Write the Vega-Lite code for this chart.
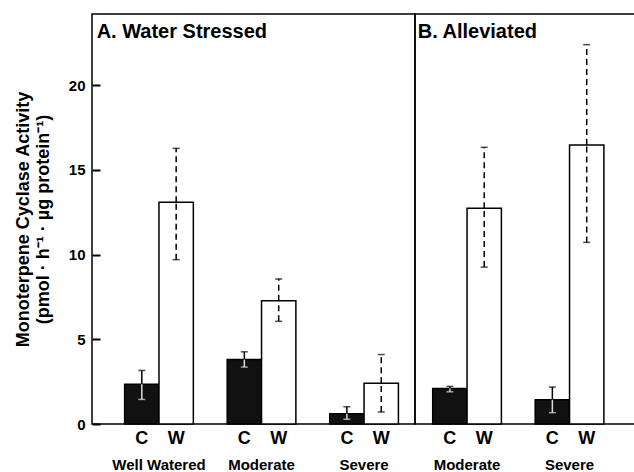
{
  "$schema": "https://vega.github.io/schema/vega-lite/v6.json",
  "padding": {"left": 13, "top": 13, "right": 0, "bottom": 0},
  "background": "white",
  "config": {
    "font": "Liberation Sans",
    "view": {"stroke": "black", "strokeWidth": 1.5},
    "concat": {"spacing": 0},
    "axisY": {"offset": -8, "ticks": true, "tickSize": 8, "tickWidth": 2, "tickColor": "black", "tickOpacity": 1, "zindex": 1, "domain": false, "grid": false, "labelFontSize": 15, "labelFontWeight": "bold", "labelColor": "black", "labelPadding": 7, "titleFontSize": 18, "titleFontWeight": "bold", "titleColor": "black", "titlePadding": 16, "titleLineHeight": 20},
    "axisX": {"ticks": false, "tickSize": 0, "domain": false, "labelAngle": 0, "labelFontSize": 15, "labelFontWeight": "bold", "labelColor": "black", "labelPadding": 33}
  },
  "spacing": 0,
  "bounds": "flush",
  "datasets": {
    "d": [
      {"panel": "A", "group": "Well Watered", "treatment": "C", "value": 2.34, "lo": 1.45, "hi": 3.16},
      {"panel": "A", "group": "Well Watered", "treatment": "W", "value": 13.09, "lo": 9.7, "hi": 16.27},
      {"panel": "A", "group": "Moderate", "treatment": "C", "value": 3.81, "lo": 3.36, "hi": 4.26},
      {"panel": "A", "group": "Moderate", "treatment": "W", "value": 7.28, "lo": 6.06, "hi": 8.56},
      {"panel": "A", "group": "Severe", "treatment": "C", "value": 0.61, "lo": 0.28, "hi": 1.02},
      {"panel": "A", "group": "Severe", "treatment": "W", "value": 2.4, "lo": 0.71, "hi": 4.1},
      {"panel": "B", "group": "Moderate", "treatment": "C", "value": 2.1, "lo": 1.9, "hi": 2.22},
      {"panel": "B", "group": "Moderate", "treatment": "W", "value": 12.74, "lo": 9.26, "hi": 16.33},
      {"panel": "B", "group": "Severe", "treatment": "C", "value": 1.43, "lo": 0.67, "hi": 2.18},
      {"panel": "B", "group": "Severe", "treatment": "W", "value": 16.47, "lo": 10.72, "hi": 22.39}
    ],
    "titles": [
      {"panel": "A", "group": "Well Watered", "label": "A. Water Stressed"},
      {"panel": "B", "group": "Moderate", "label": "B. Alleviated"}
    ]
  },
  "hconcat": [
    {
      "width": 323,
      "height": 410,
      "encoding": {
        "x": {"field": "group", "type": "nominal", "sort": ["Well Watered", "Moderate", "Severe"],
          "scale": {"paddingInner": 0.33, "paddingOuter": 0.24, "align": 0.663},
          "axis": {"title": null}}
      },
      "layer": [
        {
          "data": {"name": "d"},
          "transform": [{"filter": "datum.panel == 'A'"}],
          "encoding": {
            "xOffset": {"field": "treatment", "type": "nominal", "sort": ["C", "W"], "scale": {"paddingInner": 0, "paddingOuter": 0}}
          },
          "layer": [
            {
              "mark": {"type": "bar", "stroke": "black", "strokeWidth": 1.5},
              "encoding": {
                "y": {"field": "value", "type": "quantitative", "scale": {"domain": [0, 24.2], "nice": false, "zero": true},
                  "axis": {"title": ["Monoterpene Cyclase Activity", "(pmol · h⁻¹ · µg protein⁻¹)"], "values": [0, 5, 10, 15, 20], "ticks": true, "tickSize": 8, "tickWidth": 2, "tickColor": "black"}},
                "fill": {"field": "treatment", "type": "nominal", "scale": {"domain": ["C", "W"], "range": ["#111111", "#ffffff"]}, "legend": null}
              }
            },
            {
              "mark": {"type": "rule", "strokeWidth": 1.5, "color": "black"},
              "encoding": {
                "y": {"field": "value", "type": "quantitative"},
                "y2": {"field": "hi"},
                "strokeDash": {"field": "treatment", "type": "nominal", "scale": {"domain": ["C", "W"], "range": [[1, 0], [6, 4]]}, "legend": null}
              }
            },
            {
              "mark": {"type": "rule", "strokeWidth": 1.5},
              "encoding": {
                "y": {"field": "lo", "type": "quantitative"},
                "y2": {"field": "value"},
                "color": {"condition": {"test": "datum.treatment == 'C'", "value": "#dddddd"}, "value": "black"},
                "strokeDash": {"field": "treatment", "type": "nominal", "legend": null}
              }
            },
            {
              "mark": {"type": "tick", "size": 7, "thickness": 1.5, "color": "black"},
              "encoding": {"y": {"field": "hi", "type": "quantitative"}}
            },
            {
              "mark": {"type": "tick", "size": 7, "thickness": 1.5},
              "encoding": {
                "y": {"field": "lo", "type": "quantitative"},
                "color": {"condition": {"test": "datum.treatment == 'C'", "value": "#dddddd"}, "value": "black"}
              }
            },
            {
              "mark": {"type": "text", "baseline": "top", "dy": 6, "fontSize": 18, "fontWeight": "bold", "color": "black"},
              "encoding": {"y": {"datum": 0, "type": "quantitative"}, "text": {"field": "treatment"}}
            }
          ]
        },
        {
          "data": {"name": "titles"},
          "transform": [{"filter": "datum.panel == 'A'"}],
          "mark": {"type": "text", "align": "left", "baseline": "alphabetic", "dx": -28, "dy": 24, "fontSize": 20, "fontWeight": "bold", "color": "black"},
          "encoding": {
            "x": {"field": "group", "type": "nominal", "bandPosition": 0},
            "y": {"datum": 24.2, "type": "quantitative"},
            "text": {"field": "label"}
          }
        }
      ]
    },
    {
      "width": 222,
      "height": 410,
      "encoding": {
        "x": {"field": "group", "type": "nominal", "sort": ["Moderate", "Severe"],
          "scale": {"paddingInner": 0.33, "paddingOuter": 0.248, "align": 0.348},
          "axis": {"title": null}}
      },
      "layer": [
        {
          "data": {"name": "d"},
          "transform": [{"filter": "datum.panel == 'B'"}],
          "encoding": {
            "xOffset": {"field": "treatment", "type": "nominal", "sort": ["C", "W"], "scale": {"paddingInner": 0, "paddingOuter": 0}}
          },
          "layer": [
            {
              "mark": {"type": "bar", "stroke": "black", "strokeWidth": 1.5},
              "encoding": {
                "y": {"field": "value", "type": "quantitative", "scale": {"domain": [0, 24.2], "nice": false, "zero": true}, "axis": null},
                "fill": {"field": "treatment", "type": "nominal", "scale": {"domain": ["C", "W"], "range": ["#111111", "#ffffff"]}, "legend": null}
              }
            },
            {
              "mark": {"type": "rule", "strokeWidth": 1.5, "color": "black"},
              "encoding": {
                "y": {"field": "value", "type": "quantitative", "axis": null},
                "y2": {"field": "hi"},
                "strokeDash": {"field": "treatment", "type": "nominal", "scale": {"domain": ["C", "W"], "range": [[1, 0], [6, 4]]}, "legend": null}
              }
            },
            {
              "mark": {"type": "rule", "strokeWidth": 1.5},
              "encoding": {
                "y": {"field": "lo", "type": "quantitative", "axis": null},
                "y2": {"field": "value"},
                "color": {"condition": {"test": "datum.treatment == 'C'", "value": "#dddddd"}, "value": "black"},
                "strokeDash": {"field": "treatment", "type": "nominal", "legend": null}
              }
            },
            {
              "mark": {"type": "tick", "size": 7, "thickness": 1.5, "color": "black"},
              "encoding": {"y": {"field": "hi", "type": "quantitative", "axis": null}}
            },
            {
              "mark": {"type": "tick", "size": 7, "thickness": 1.5},
              "encoding": {
                "y": {"field": "lo", "type": "quantitative", "axis": null},
                "color": {"condition": {"test": "datum.treatment == 'C'", "value": "#dddddd"}, "value": "black"}
              }
            },
            {
              "mark": {"type": "text", "baseline": "top", "dy": 6, "fontSize": 18, "fontWeight": "bold", "color": "black"},
              "encoding": {"y": {"datum": 0, "type": "quantitative", "axis": null}, "text": {"field": "treatment"}}
            }
          ]
        },
        {
          "data": {"name": "titles"},
          "transform": [{"filter": "datum.panel == 'B'"}],
          "mark": {"type": "text", "align": "left", "baseline": "alphabetic", "dx": -15, "dy": 24, "fontSize": 20, "fontWeight": "bold", "color": "black"},
          "encoding": {
            "x": {"field": "group", "type": "nominal", "bandPosition": 0},
            "y": {"datum": 24.2, "type": "quantitative", "axis": null},
            "text": {"field": "label"}
          }
        }
      ]
    }
  ]
}
